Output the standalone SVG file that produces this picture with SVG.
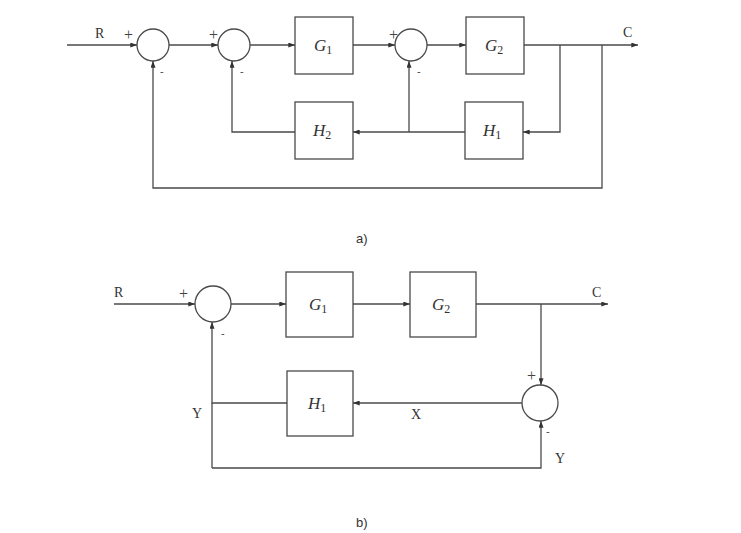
<svg xmlns="http://www.w3.org/2000/svg" width="741" height="533" viewBox="0 0 741 533">
<style>
.ln{fill:none;stroke:#4a4a4a;stroke-width:1.3}
.bx{fill:#fff;stroke:#4a4a4a;stroke-width:1.3}
.t{font-family:"Liberation Serif",serif;font-size:14px;fill:#333}
.m{font-family:"Liberation Serif",serif;font-style:italic;font-size:17px;fill:#333}
.sub{font-style:normal;font-size:12px}
.pl{font-family:"Liberation Serif",serif;font-size:16px;fill:#444}
.sg{font-family:"Liberation Sans",sans-serif;font-size:11px;fill:#444}
.cap{font-family:"Liberation Sans",sans-serif;font-size:13px;fill:#333}
</style>
<defs>
<marker id="ar" viewBox="0 0 8 6" refX="8" refY="3" markerWidth="7" markerHeight="5" markerUnits="userSpaceOnUse" orient="auto">
<path d="M0,0 L8,3 L0,6 z" fill="#333"/>
</marker>
</defs>
<rect width="741" height="533" fill="#fff"/>
<g id="connectors">
<path class="ln" d="M67,45 H137" marker-end="url(#ar)"/>
<path class="ln" d="M169,45 H218" marker-end="url(#ar)"/>
<path class="ln" d="M250,45 H295" marker-end="url(#ar)"/>
<path class="ln" d="M353,45 H395" marker-end="url(#ar)"/>
<path class="ln" d="M427,45 H466" marker-end="url(#ar)"/>
<path class="ln" d="M524,45 H638" marker-end="url(#ar)"/>
<path class="ln" d="M560,45 V132 H523" marker-end="url(#ar)"/>
<path class="ln" d="M465,132 H353" marker-end="url(#ar)"/>
<path class="ln" d="M409,132 V61" marker-end="url(#ar)"/>
<path class="ln" d="M295,132 H232 V61" marker-end="url(#ar)"/>
<path class="ln" d="M602,45 V188 H153 V61" marker-end="url(#ar)"/>
<path class="ln" d="M114,304 H195" marker-end="url(#ar)"/>
<path class="ln" d="M231,304 H286" marker-end="url(#ar)"/>
<path class="ln" d="M353,304 H410" marker-end="url(#ar)"/>
<path class="ln" d="M476,304 H608" marker-end="url(#ar)"/>
<path class="ln" d="M541,304 V385" marker-end="url(#ar)"/>
<path class="ln" d="M522,403 H353" marker-end="url(#ar)"/>
<path class="ln" d="M287,403 H212 V322" marker-end="url(#ar)"/>
<path class="ln" d="M212,468 V403 M212,468 H541 V421" marker-end="url(#ar)"/>
</g>
<g id="sumA1"><circle class="bx" cx="153" cy="45" r="16"/><text class="pl" x="124" y="40">+</text><text class="sg" x="160" y="75">-</text></g>
<g id="sumA2"><circle class="bx" cx="234" cy="45" r="16"/><text class="pl" x="209" y="40">+</text><text class="sg" x="240" y="75">-</text></g>
<g id="sumA3"><circle class="bx" cx="411" cy="45" r="16"/><text class="pl" x="389" y="40">+</text><text class="sg" x="417" y="75">-</text></g>
<g id="G1a"><rect class="bx" x="295" y="17" width="58" height="57"/><text class="m" x="314" y="51">G<tspan class="sub" dy="3">1</tspan></text></g>
<g id="G2a"><rect class="bx" x="466" y="17" width="58" height="57"/><text class="m" x="485" y="51">G<tspan class="sub" dy="3">2</tspan></text></g>
<g id="H2a"><rect class="bx" x="295" y="102" width="58" height="57"/><text class="m" x="313" y="136">H<tspan class="sub" dy="3">2</tspan></text></g>
<g id="H1a"><rect class="bx" x="465" y="102" width="58" height="57"/><text class="m" x="483" y="136">H<tspan class="sub" dy="3">1</tspan></text></g>
<g id="labelsA">
<text class="t" x="95" y="38">R</text>
<text class="t" x="623" y="37">C</text>
<text class="cap" x="356" y="243">a)</text>
</g>
<g id="sumB1"><circle class="bx" cx="213" cy="304" r="18"/><text class="pl" x="179" y="299">+</text><text class="sg" x="221" y="337">-</text></g>
<g id="sumB2"><circle class="bx" cx="540" cy="403" r="18"/><text class="pl" x="527" y="381">+</text><text class="sg" x="546" y="435">-</text></g>
<g id="G1b"><rect class="bx" x="286" y="272" width="67" height="65"/><text class="m" x="309" y="310">G<tspan class="sub" dy="3">1</tspan></text></g>
<g id="G2b"><rect class="bx" x="410" y="272" width="66" height="65"/><text class="m" x="432" y="310">G<tspan class="sub" dy="3">2</tspan></text></g>
<g id="H1b"><rect class="bx" x="287" y="371" width="66" height="65"/><text class="m" x="308" y="409">H<tspan class="sub" dy="3">1</tspan></text></g>
<g id="labelsB">
<text class="t" x="114" y="297">R</text>
<text class="t" x="592" y="297">C</text>
<text class="t" x="192" y="418">Y</text>
<text class="t" x="411" y="419">X</text>
<text class="t" x="555" y="463">Y</text>
<text class="cap" x="356" y="527">b)</text>
</g>
</svg>
